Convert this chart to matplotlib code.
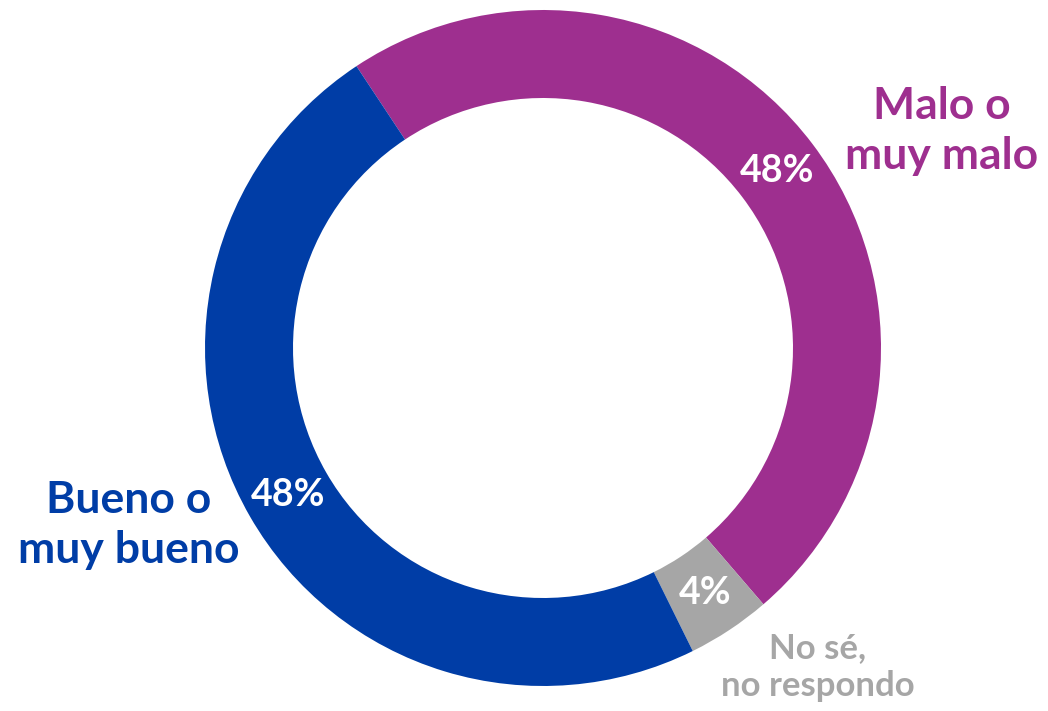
import matplotlib.pyplot as plt

# data
categories = ["Malo o\nmuy malo", "No sé,\nno respondo", "Bueno o\nmuy bueno"]
values = [48, 4, 48]
colors = ["#9E2F8F", "#A6A6A6", "#003DA6"]

plt.rcParams['font.family'] = ['Lato', 'DejaVu Sans']

fig = plt.figure(figsize=(10.48, 7.11), dpi=100)
ax = fig.add_axes([0, 0, 1, 1])

# ring radius 1 == 338 px, center at (543, 348) px from top-left
R = 338.0
wedges, texts, autotexts = ax.pie(
    values, colors=colors, startangle=123.5, counterclock=False,
    radius=1.0, wedgeprops=dict(width=88 / R, edgecolor='none'),
    autopct=lambda p: "%d%%" % round(p), pctdistance=(338 - 44) / R,
    textprops=dict(color='white', fontsize=27, fontweight='bold'))

for t in autotexts:
    t.set_color('white')
    t.set_fontweight('bold')
    t.set_fontsize(27)

ax.set_xlim(-543 / R, (1048 - 543) / R)
ax.set_ylim(-(711 - 348) / R, 348 / R)
ax.set_aspect('auto')
ax.axis('off')

# category labels
ax.text(942 / 1048, 1 - 131 / 711, categories[0], transform=ax.transAxes,
        ha='center', va='center', color=colors[0], fontsize=32,
        fontweight='bold', linespacing=1.32)
ax.text(818 / 1048, 1 - 667 / 711, categories[1], transform=ax.transAxes,
        ha='center', va='center', color=colors[1], fontsize=25,
        fontweight='bold', linespacing=1.2)
ax.text(129 / 1048, 1 - 525 / 711, categories[2], transform=ax.transAxes,
        ha='center', va='center', color=colors[2], fontsize=32,
        fontweight='bold', linespacing=1.3)

fig.savefig("out.png", dpi=100)
